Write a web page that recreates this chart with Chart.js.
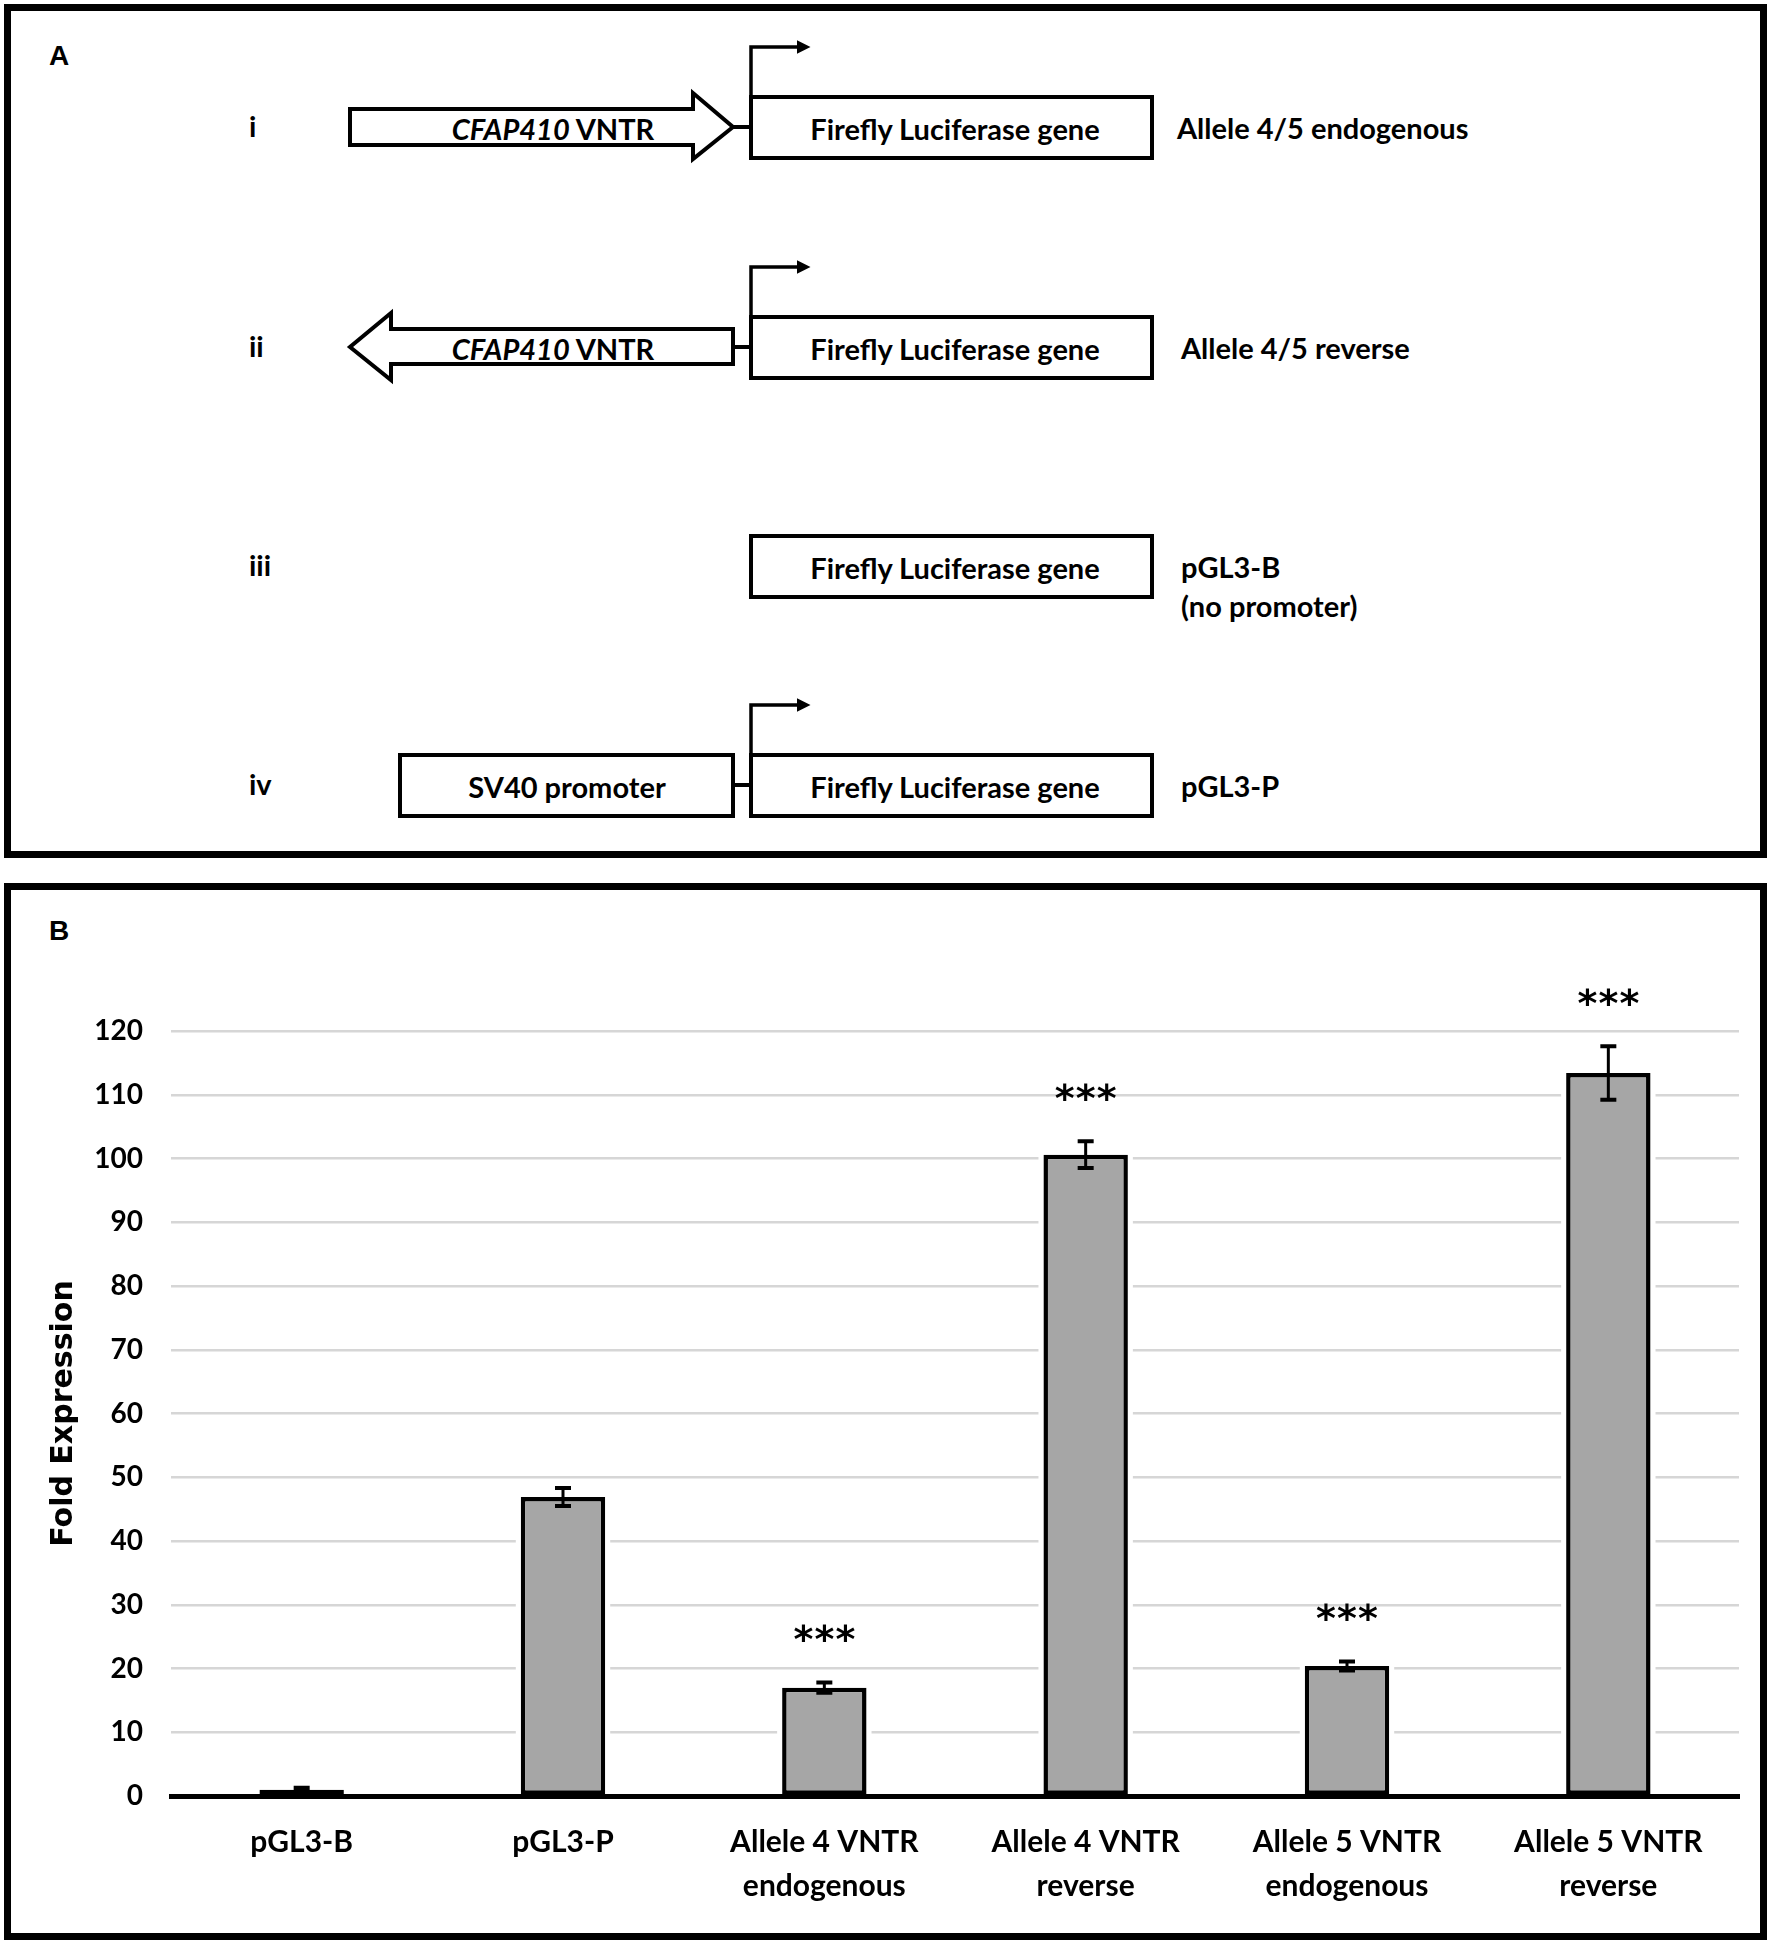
<!DOCTYPE html>
<html>
<head>
<meta charset="utf-8">
<script src="https://cdn.jsdelivr.net/npm/chart.js@4.4.1/dist/chart.umd.min.js"></script>
<style>
  body { margin: 0; width: 1772px; height: 1947px; background: #fff; position: relative; overflow: hidden; }
  .panel { position: absolute; box-sizing: border-box; border: 7px solid #000; }
  .tag { position: absolute; font: bold 28px "Liberation Sans", Arial, sans-serif; }
  svg text { font-family: Lato, "Open Sans", sans-serif; font-weight: bold; font-size: 29px; fill: #000; }
  #myChart { position: absolute; left: 10px; top: 900px; }
</style>
</head>
<body>
<div class="panel" style="left:4px;top:4px;width:1763px;height:854px"></div>
<div class="panel" style="left:4px;top:883px;width:1763px;height:1057px"></div>
<div class="tag" style="left:49px;top:40px">A</div>
<div class="tag" style="left:49px;top:915px">B</div>

<svg id="diagram" width="1772" height="880" style="position:absolute;left:0;top:0">
  <defs>
    <marker id="head" markerWidth="4" markerHeight="4" refX="1" refY="2" orient="auto" markerUnits="strokeWidth">
      <path d="M0,0 L4,2 L0,4 z" fill="#000"/>
    </marker>
  </defs>
  <g id="rows" fill="#fff" stroke="#000" stroke-width="4"></g>
</svg>

<canvas id="myChart" width="1750" height="1030"></canvas>

<script>
// ---- panel B data ----
var categories = [
    ['pGL3-B'],
    ['pGL3-P'],
    ['Allele 4 VNTR', 'endogenous'],
    ['Allele 4 VNTR', 'reverse'],
    ['Allele 5 VNTR', 'endogenous'],
    ['Allele 5 VNTR', 'reverse']
];
var foldExpression = [1.0, 46.9, 17.0, 100.6, 20.4, 113.4];
var errorSD = [0.3, 1.4, 0.8, 2.1, 0.7, 4.2];
var significance = ['', '', '***', '***', '***', '***'];
var yMin = 0, yMax = 120, yStep = 10;

// ---- panel A construct labels ----
var numerals = ['i', 'ii', 'iii', 'iv'];
var constructNames = [['Allele 4/5 endogenous'], ['Allele 4/5 reverse'], ['pGL3-B', '(no promoter)'], ['pGL3-P']];

function drawDiagram() {
    var g = document.getElementById('rows');
    var svg = '';
    var rowY = [127, 347, 566, 785];
    var lblX = [1177, 1181, 1181, 1181];
    for (let j = 0; j < 4; j++) {
        let cy = rowY[j];
        let top = cy - 30, h = 61;
        svg += `<rect x="751" y="${top}" width="401" height="${h}"/>`;
        svg += `<text x="955" y="${cy + 1}" text-anchor="middle" dominant-baseline="central" stroke="none">Firefly Luciferase gene</text>`;
        svg += `<text x="249" y="${cy - 2}" dominant-baseline="central" stroke="none">${numerals[j]}</text>`;
        constructNames[j].forEach((t, k) => {
            svg += `<text x="${lblX[j]}" y="${cy + k * 39}" dominant-baseline="central" stroke="none">${t}</text>`;
        });
        if (j !== 2) {
            // promoter arrow
            svg += `<path d="M751,${top} L751,${top - 50} L800,${top - 50}" fill="none" stroke-width="3.5" marker-end="url(#head)"/>`;
        }
    }
    // i : forward VNTR
    svg += `<polygon points="350,109 693,109 693,93 733,127 693,159 693,145 350,145"/>`;
    svg += `<line x1="733" y1="127" x2="751" y2="127"/>`;
    svg += `<text x="553" y="128" text-anchor="middle" dominant-baseline="central" stroke="none"><tspan font-style="italic">CFAP410</tspan> VNTR</text>`;
    // ii : reverse VNTR
    svg += `<polygon points="733,329 391,329 391,313 350,347 391,380 391,364 733,364"/>`;
    svg += `<line x1="733" y1="347" x2="751" y2="347"/>`;
    svg += `<text x="553" y="348" text-anchor="middle" dominant-baseline="central" stroke="none"><tspan font-style="italic">CFAP410</tspan> VNTR</text>`;
    // iv : SV40
    svg += `<rect x="400" y="755" width="333" height="61"/>`;
    svg += `<line x1="733" y1="785" x2="751" y2="785"/>`;
    svg += `<text x="567" y="786" text-anchor="middle" dominant-baseline="central" stroke="none">SV40 promoter</text>`;
    g.innerHTML = svg;
}

var barExtras = {
    id: 'barExtras',
    beforeDatasetsDraw(chart) {
        // white halo so gridlines stop short of the bars
        let ctx = chart.ctx;
        ctx.save();
        ctx.fillStyle = '#fff';
        chart.getDatasetMeta(0).data.forEach(bar => {
            ctx.fillRect(bar.x - bar.width / 2 - 5, bar.y, bar.width + 10, bar.base - bar.y - 3);
        });
        ctx.restore();
    },
    afterDatasetsDraw(chart) {
        let ctx = chart.ctx;
        let y = chart.scales.y;
        ctx.save();
        ctx.strokeStyle = '#000';
        ctx.fillStyle = '#000';
        chart.getDatasetMeta(0).data.forEach((bar, i) => {
            let v = foldExpression[i], e = errorSD[i];
            let hi = y.getPixelForValue(v + e), lo = y.getPixelForValue(v - e);
            ctx.lineWidth = 3;
            ctx.beginPath();
            ctx.moveTo(bar.x, hi);
            ctx.lineTo(bar.x, lo);
            ctx.stroke();
            ctx.lineWidth = 4;
            ctx.beginPath();
            ctx.moveTo(bar.x - 8, hi); ctx.lineTo(bar.x + 8, hi);
            ctx.moveTo(bar.x - 8, lo); ctx.lineTo(bar.x + 8, lo);
            ctx.stroke();
            if (significance[i]) {
                let sy = y.getPixelForValue(v + e + 7.4);
                ctx.font = 'bold 38px "DejaVu Sans"';
                ctx.textAlign = 'center';
                ctx.textBaseline = 'alphabetic';
                for (let k = -1; k <= 1; k++) {
                    ctx.fillText('*', bar.x + k * 21, sy + 17);
                }
            }
        });
        ctx.restore();
    }
};

function init() {
    let data = {
        labels: categories,
        datasets: [{
            data: foldExpression,
            backgroundColor: '#a6a6a6',
            borderColor: '#000',
            borderWidth: 4.5,
            borderSkipped: false,
            barPercentage: 0.323,
            categoryPercentage: 1
        }]
    };

    let config = {
        type: 'bar',
        data,
        options: {
            responsive: false,
            animation: false,
            devicePixelRatio: 1,
            layout: { padding: { left: 0, right: 21, top: 131, bottom: 0 } },
            plugins: { legend: { display: false }, tooltip: { enabled: false } },
            scales: {
                x: {
                    grid: { display: false, drawTicks: false },
                    border: { display: true, color: '#000', width: 5 },
                    ticks: {
                        color: '#000',
                        padding: 24,
                        maxRotation: 0,
                        font: { family: 'Lato', weight: 'bold', size: 30, lineHeight: 1.48 }
                    },
                    afterFit: s => { s.height = 134; }
                },
                y: {
                    min: yMin,
                    max: yMax,
                    grid: {
                        drawTicks: false,
                        lineWidth: 2.5,
                        color: c => c.tick && c.tick.value === 0 ? 'rgba(0,0,0,0)' : '#d6d6d6'
                    },
                    border: { display: false },
                    ticks: {
                        stepSize: yStep,
                        color: '#000',
                        padding: 28,
                        font: { family: 'Lato', weight: 'bold', size: 28 }
                    },
                    title: {
                        display: true,
                        text: 'Fold Expression',
                        color: '#000',
                        padding: { top: 36 },
                        font: { family: 'DejaVu Sans', weight: 'bold', size: 30 }
                    },
                    afterFit: s => { s.width = 161; }
                }
            }
        },
        plugins: [barExtras]
    };

    myChart = new Chart(document.getElementById('myChart'), config);
}

drawDiagram();
init();
</script>
</body>
</html>
